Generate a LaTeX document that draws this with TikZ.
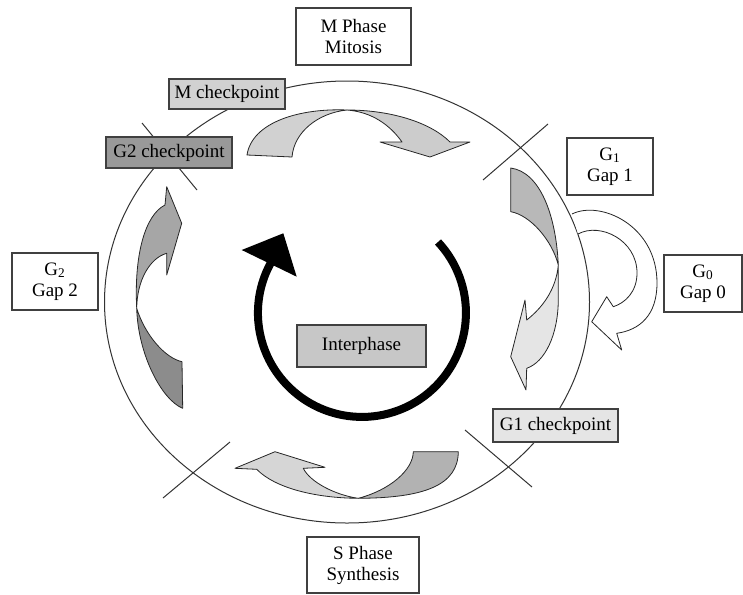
\documentclass[tikz,border=0pt]{standalone}
\usepackage{fontspec}
\setmainfont{Liberation Serif}
\begin{document}
\begin{tikzpicture}[x=0.5pt,y=-0.5pt,
    every node/.style={font=\fontsize{9.5}{10.5}\selectfont,align=center,inner sep=0pt},
    phase/.style={draw=black!75,line width=0.6pt,fill=white,minimum height=28.5pt},
    chkpt/.style={draw=black!75,line width=0.6pt,minimum height=15.5pt},
    ribbon/.style={draw=black!85,line width=0.4pt,line join=round}]
    \useasboundingbox (0,0) rectangle (743,594);
    \draw[black!80,line width=0.5pt] (347,302) ellipse[x radius=242.5,y radius=221]; %Zyklus
    \draw[black!80,line width=0.5pt] (483,180)--(548,124) (142,123)--(197,190)
        (163,498)--(230,442) (465,430)--(532,487); %Grenzen
    \filldraw[ribbon,fill=white] (572,214) .. controls (600,200) and (657,225) .. (657,283)
        .. controls (657,315) and (640,330) .. (616.7,333.3) -- (621.7,350) -- (591.7,321.7)
        -- (606.7,296.7) -- (613.3,306.7) .. controls (625,303) and (637,292) .. (637,273)
        .. controls (637,240) and (600,222) .. (578,234); %G0 Schleife
    \filldraw[ribbon,fill=black!18] (247,155) .. controls (252,122) and (300,108) .. (347,110)
        .. controls (318,113) and (294,132) .. (292,157) -- cycle; %M
    \filldraw[ribbon,fill=black!20] (347,110) .. controls (390,110) and (430,122) .. (450,142)
        -- (470,142) -- (430,157) -- (380,142) -- (402,142)
        .. controls (390,125) and (372,112) .. (347,110) -- cycle;
    \filldraw[ribbon,fill=black!28] (510.7,211.7) -- (510.7,168) .. controls (540,172) and (556,215) .. (558.3,265)
        .. controls (552,240) and (530,215) .. (510.7,211.7) -- cycle; %G1
    \filldraw[ribbon,fill=black!10] (558.3,265) -- (558.3,300) .. controls (558,335) and (545,362) .. (526.7,368.3)
        -- (526,390) -- (510.7,356.7) -- (525,300) -- (526.7,320)
        .. controls (542,308) and (556,290) .. (558.3,265) -- cycle;
    \filldraw[ribbon,fill=black!30] (413.3,451.7) -- (458.3,451.7) .. controls (458,485) and (425,498) .. (358.3,498.3)
        .. controls (390,490) and (413,470) .. (413.3,451.7) -- cycle; %S
    \filldraw[ribbon,fill=black!16] (358.3,498.3) .. controls (315,498) and (275,488) .. (256.7,469.3)
        -- (235,468.3) -- (275,451.7) -- (325,467.3) -- (303.3,468.3)
        .. controls (310,482) and (335,495) .. (358.3,498.3) -- cycle;
    \filldraw[ribbon,fill=black!45] (136.7,308.3) .. controls (145,335) and (165,358) .. (182,361.7)
        -- (182.7,408.3) .. controls (162,400) and (138,355) .. (136.7,308.3) -- cycle; %G2
    \filldraw[ribbon,fill=black!35] (136.7,308.3) .. controls (134,255) and (145,215) .. (165,205)
        -- (166.7,186.7) -- (181.7,223.3) -- (166.7,275) -- (166.7,253.3)
        .. controls (150,258) and (137,280) .. (136.7,308.3) -- cycle;
    \draw[line width=4pt] (438,242) arc[start angle=-43,end angle=210,radius=104]; %Interphase
    \fill (241.7,250) -- (283.3,233.3) -- (296.7,276.7) -- cycle;
    \node[phase,minimum width=57.5pt] (mphase) at (353.5,36.5) {M Phase\\Mitosis};
    \node[phase,minimum width=43pt] (gone) at (610,166.5) {G\textsubscript{1}\\Gap 1};
    \node[phase,minimum width=39pt] (gzero) at (703,283.5) {G\textsubscript{0}\\Gap 0};
    \node[phase,minimum width=43pt] (gtwo) at (55,281.5) {G\textsubscript{2}\\Gap 2};
    \node[phase,minimum width=56pt,minimum height=28pt] (sphase) at (363,565) {S Phase\\Synthesis};
    \node[chkpt,fill=black!18,minimum width=58pt,minimum height=15pt] (mcheck) at (227,94) {M checkpoint};
    \node[chkpt,fill=black!40,minimum width=63pt] (gtwocheck) at (169,152.5) {G2 checkpoint};
    \node[chkpt,fill=black!10,minimum width=62.5pt,minimum height=16.5pt] (gonecheck) at (555.5,425.5) {G1 checkpoint};
    \node[chkpt,fill=black!22,minimum width=64.5pt,minimum height=21pt] (inter) at (361.5,346) {Interphase};
\end{tikzpicture}
\end{document}
